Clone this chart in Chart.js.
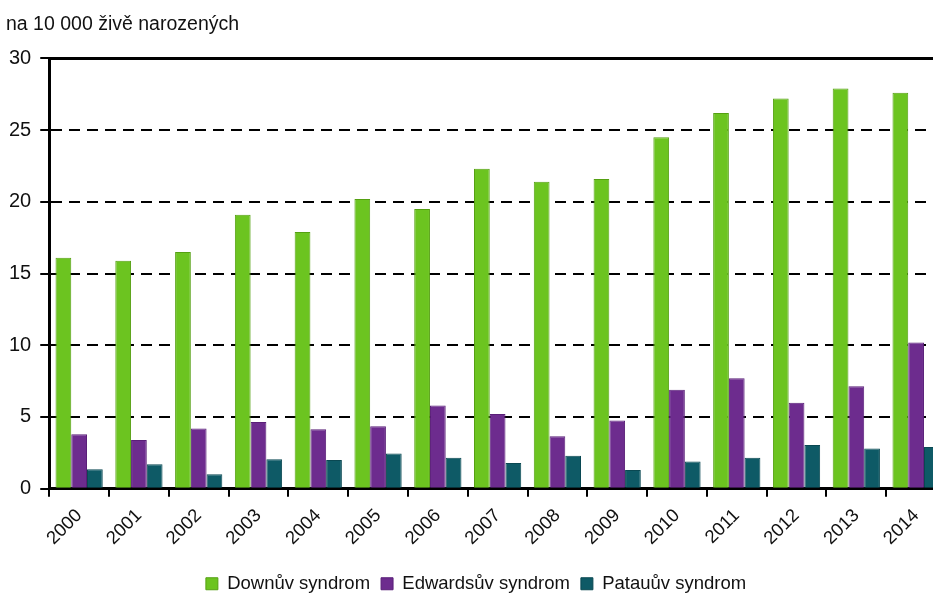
<!DOCTYPE html>
<html>
<head>
<meta charset="utf-8">
<script src="https://cdn.jsdelivr.net/npm/chart.js@4"></script>
<style>
  html, body { margin: 0; padding: 0; background: #fff; overflow: hidden; }
  #wrap { width: 950px; height: 595px; }
</style>
</head>
<body>
<div id="wrap"><canvas id="grafico"></canvas></div>
<script>
// roky
const roky = ["2000", "2001", "2002", "2003", "2004", "2005", "2006", "2007",
  "2008", "2009", "2010", "2011", "2012", "2013", "2014"];

// na 10 000 živě narozených
const down = [16.1, 15.9, 16.5, 19.1, 17.9, 20.2, 19.5, 22.3, 21.4, 21.6, 24.5, 26.2, 27.2, 27.9, 27.6];
const edwards = [3.8, 3.4, 4.2, 4.65, 4.15, 4.35, 5.8, 5.2, 3.65, 4.75, 6.9, 7.7, 6.0, 7.15, 10.2];
const patau = [1.35, 1.7, 1.0, 2.05, 2.0, 2.45, 2.15, 1.8, 2.3, 1.3, 1.9, 2.15, 3.05, 2.8, 2.9];

const yTicks = [0, 5, 10, 15, 20, 25, 30];

Chart.defaults.font.family = "'Liberation Sans', Arial, sans-serif";
Chart.defaults.color = "#111";

const ctx = document.getElementById("grafico");

new Chart(ctx, {
  type: "bar",
  data: {
    labels: roky,
    datasets: [
      { label: "Downův syndrom", data: down, backgroundColor: "#6cc420", borderColor: "#55a012", borderWidth: 1 },
      { label: "Edwardsův syndrom", data: edwards, backgroundColor: "#6d2c8e", borderColor: "#5a1f78", borderWidth: 1 },
      { label: "Patauův syndrom", data: patau, backgroundColor: "#0e5a66", borderColor: "#0a4852", borderWidth: 1 }
    ]
  },
  options: {
    responsive: true,
    maintainAspectRatio: false,
    animation: false,
    layout: { padding: { left: 6, right: 4, top: 13, bottom: -8 } },
    datasets: { bar: { categoryPercentage: 0.79, barPercentage: 1.0 } },
    plugins: {
      title: {
        display: true,
        text: "na 10 000 živě narozených",
        align: "start",
        color: "#111",
        font: { size: 19.5, weight: "normal" },
        padding: { top: 0, bottom: 22 }
      },
      legend: {
        position: "bottom",
        labels: {
          boxWidth: 12,
          boxHeight: 12,
          padding: 11,
          color: "#111",
          font: { size: 18.5 }
        }
      },
      tooltip: { enabled: false }
    },
    scales: {
      x: {
        grid: { drawOnChartArea: false, drawTicks: true, tickLength: 8, color: "#000", lineWidth: 2, offset: true },
        border: { display: true, color: "#000", width: 3 },
        ticks: { maxRotation: 45, minRotation: 45, padding: 8, color: "#111", font: { size: 18.5 } },
        afterFit: (axis) => { axis.height += 6; }
      },
      xTop: {
        position: "top",
        grid: { display: false, drawTicks: false },
        border: { display: true, color: "#000", width: 3 },
        ticks: { display: false }
      },
      y: {
        min: 0,
        max: 30,
        afterBuildTicks: (axis) => { axis.ticks = yTicks.map((v) => ({ value: v })); },
        afterFit: (axis) => { axis.width -= 6; },
        grid: {
          color: (c) => (c.tick && (c.tick.value === 0 || c.tick.value === 30)) ? "rgba(0,0,0,0)" : "#000",
          lineWidth: 2,
          tickLength: 9,
          tickColor: "#000",
          tickWidth: 2,
          tickBorderDash: []
        },
        border: { display: true, color: "#000", width: 3, dash: [11, 7] },
        ticks: { padding: 9, color: "#111", font: { size: 20 } }
      }
    }
  }
});
</script>
</body>
</html>
